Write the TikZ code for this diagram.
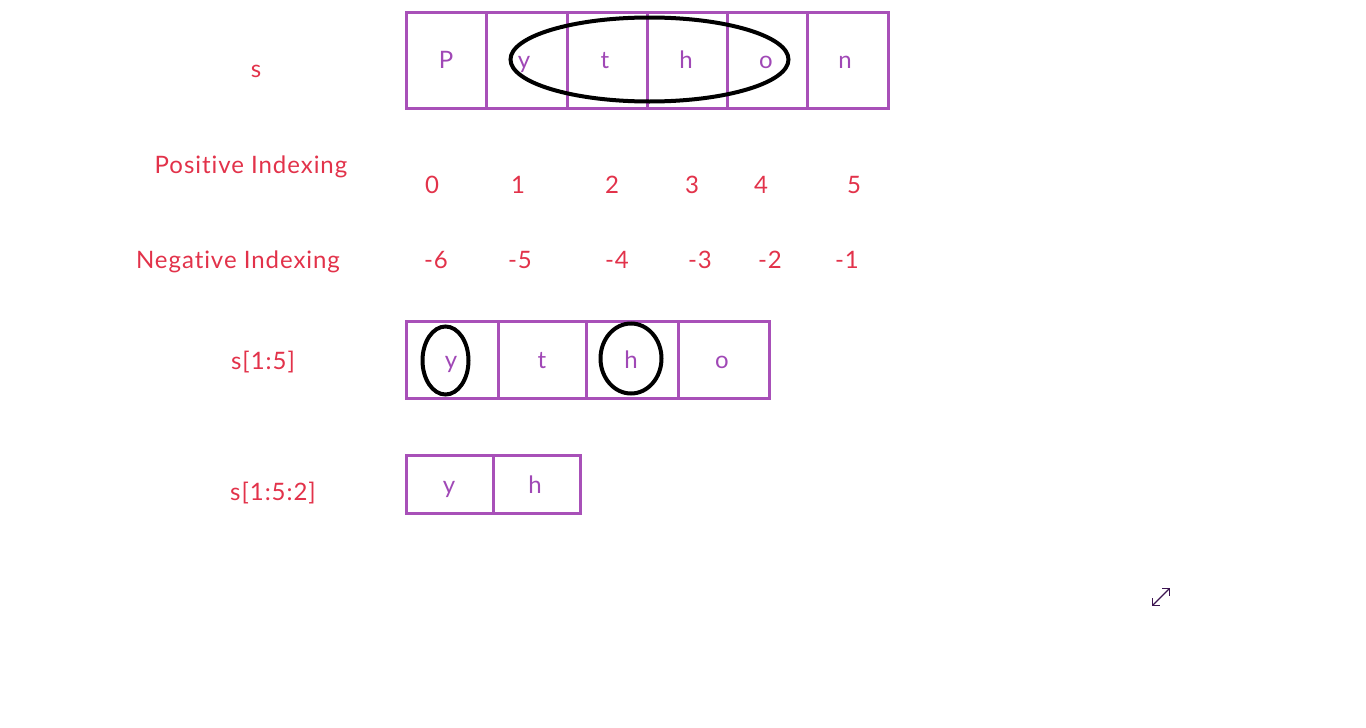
\documentclass[tikz,border=0pt]{standalone}
\usepackage{fontspec}
\setmainfont{Lato}[Ligatures=NoCommon]
\usetikzlibrary{arrows.meta}
\definecolor{lblred}{RGB}{226,50,74}
\definecolor{boxpurple}{RGB}{168,80,184}
\definecolor{letpurple}{RGB}{160,72,182}
\tikzset{
  lbl/.style={text=lblred, font=\fontsize{24}{28}\selectfont\addfontfeature{LetterSpace=4}, inner sep=0pt, anchor=base},
  let/.style={text=letpurple, font=\fontsize{24}{28}\selectfont, inner sep=0pt, anchor=base},
  cell/.style={draw=boxpurple, line width=3pt, inner sep=0pt, anchor=north west},
  ring/.style={draw=black, line width=4pt}
}
\begin{document}
\begin{tikzpicture}[x=1pt,y=-1pt]
\useasboundingbox (0,0) rectangle (1366,728);
% labels
\node[lbl] (ls) at (256,77) {s};
\node[lbl] (lpos) at (251,173) {Posit\kern0.9pt ive Indexing};
\node[lbl] (lneg) at (238,268) {Negat\kern0.9pt ive Indexing};
\node[lbl] (l15) at (263,369) {s[1:5]};
\node[lbl] (l152) at (273,500) {s[1:5:2]};
% positive indices
\node[lbl] (p0) at (432,193) {0};
\node[lbl] (p1) at (518,193) {1};
\node[lbl] (p2) at (612,193) {2};
\node[lbl] (p3) at (692,193) {3};
\node[lbl] (p4) at (761,193) {4};
\node[lbl] (p5) at (854,193) {5};
% negative indices
\node[lbl] (n0) at (436,268) {-6};
\node[lbl] (n1) at (520,268) {-5};
\node[lbl] (n2) at (617,268) {-4};
\node[lbl] (n3) at (700,268) {-3};
\node[lbl] (n4) at (770,268) {-2};
\node[lbl] (n5) at (847,268) {-1};
% top row
\node[cell, minimum width=80pt, minimum height=96pt] (c0) at (405,11) {};
\node[cell, minimum width=81pt, minimum height=96pt] (c1) at (485,11) {};
\node[cell, minimum width=80pt, minimum height=96pt] (c2) at (566,11) {};
\node[cell, minimum width=80pt, minimum height=96pt] (c3) at (646,11) {};
\node[cell, minimum width=80pt, minimum height=96pt] (c4) at (726,11) {};
\node[cell, minimum width=81pt, minimum height=96pt] (c5) at (806,11) {};
\node[let] (t0) at (446,68) {P};
\node[let] (t1) at (524,68) {y};
\node[let] (t2) at (605,68) {t};
\node[let] (t3) at (686,68) {h};
\node[let] (t4) at (766,68) {o};
\node[let] (t5) at (845,68) {n};
\draw[ring] (649.5,59.5) ellipse [x radius=139, y radius=42];
% s[1:5] row
\node[cell, minimum width=92pt, minimum height=77pt] (d0) at (405,320) {};
\node[cell, minimum width=88pt, minimum height=77pt] (d1) at (497,320) {};
\node[cell, minimum width=92pt, minimum height=77pt] (d2) at (585,320) {};
\node[cell, minimum width=91pt, minimum height=77pt] (d3) at (677,320) {};
\node[let] (u0) at (451,368) {y};
\node[let] (u1) at (542,368) {t};
\node[let] (u2) at (631,368) {h};
\node[let] (u3) at (722,368) {o};
\draw[ring] (445.5,360.5) ellipse [x radius=23, y radius=34];
\draw[ring] (631,358.5) ellipse [x radius=30.5, y radius=35];
% s[1:5:2] row
\node[cell, minimum width=87pt, minimum height=58pt] (e0) at (405,454) {};
\node[cell, minimum width=87pt, minimum height=58pt] (e1) at (492,454) {};
\node[let] (v0) at (449,493) {y};
\node[let] (v1) at (535,493) {h};
% expand icon
\coordinate (ia) at (1152,606);
\coordinate (ib) at (1170,588);
\draw[line width=1.3pt, color={rgb,255:red,60;green,20;blue,80}, {Straight Barb[length=5pt]}-{Straight Barb[length=5pt]}] (ia) -- (ib);
\end{tikzpicture}
\end{document}
